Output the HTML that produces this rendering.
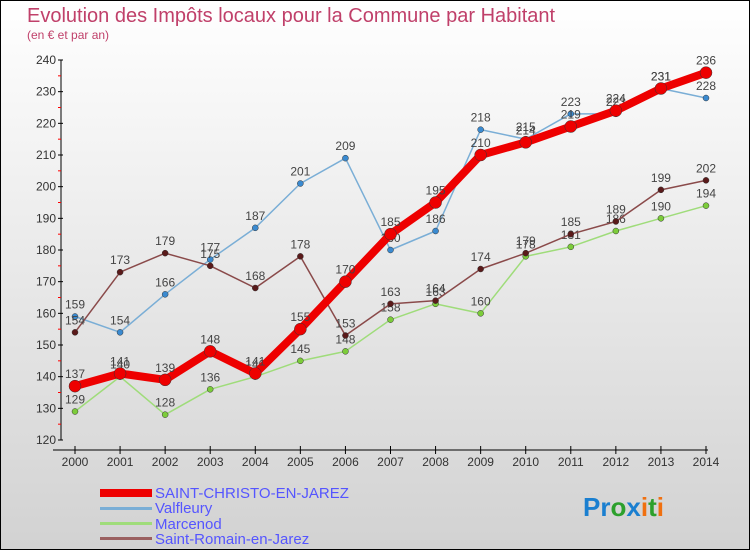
<!DOCTYPE html>
<html><head><meta charset="utf-8"><style>
body{margin:0}
svg{display:block;font-family:"Liberation Sans",sans-serif}
</style></head><body>
<svg id="c" width="750" height="550" viewBox="0 0 750 550">
<defs><linearGradient id="bg" x1="0" y1="0" x2="0" y2="1"><stop offset="0" stop-color="#ffffff"/><stop offset="1" stop-color="#d2d2d2"/></linearGradient></defs>
<rect x="0.5" y="0.5" width="749" height="549" fill="url(#bg)" stroke="#000"/>
<text x="27" y="22" font-size="20" fill="#c0406a">Evolution des Impôts locaux pour la Commune par Habitant</text>
<text x="27" y="39" font-size="12" fill="#c0406a">(en € et par an)</text>
<g id="axes"></g>
<g id="series"></g>
<g>
<rect x="100" y="489" width="52" height="8" fill="#e00"/>
<text x="155" y="498" font-size="15" fill="#5555ff">SAINT-CHRISTO-EN-JAREZ</text>
<rect x="100" y="507" width="52" height="3" fill="#7aaed6"/>
<text x="155" y="513" font-size="15" fill="#5555ff">Valfleury</text>
<rect x="100" y="522" width="52" height="3" fill="#9fdc7a"/>
<text x="155" y="529" font-size="15" fill="#5555ff">Marcenod</text>
<rect x="100" y="537" width="52" height="3" fill="#9a6060"/>
<text x="155" y="544" font-size="15" fill="#5555ff">Saint-Romain-en-Jarez</text>
</g>
<text x="583" y="516" font-size="26" font-weight="bold"><tspan fill="#1a7fd0">Pr</tspan><tspan fill="#2ca02c">o</tspan><tspan fill="#1a7fd0">x</tspan><tspan fill="#f07010">i</tspan><tspan fill="#2ca02c">t</tspan><tspan fill="#f07010">i</tspan></text>
</svg>
<script>
const years=[2000,2001,2002,2003,2004,2005,2006,2007,2008,2009,2010,2011,2012,2013,2014];
const stChristo=[137,141,139,148,141,155,170,185,195,210,214,219,224,231,236];
const valfleury=[159,154,166,177,187,201,209,180,186,218,215,223,223,231,228];
const marcenod=[129,140,128,136,140,145,148,158,163,160,178,181,186,190,194];
const stRomain=[154,173,179,175,168,178,153,163,164,174,179,185,189,199,202];
const yTicks=[120,130,140,150,160,170,180,190,200,210,220,230,240];
const NS="http://www.w3.org/2000/svg";
const x=i=>75+i*(706-75)/(years.length-1);
const y=v=>440-(v-120)*(380/120);
function mk(t,a,p){const e=document.createElementNS(NS,t);for(const k in a)e.setAttribute(k,a[k]);p.appendChild(e);return e;}
const ax=document.getElementById('axes');
const yl=mk('line',{x1:61,y1:60,x2:61,y2:440,stroke:'#000'},ax);


yTicks.forEach(v=>{
  const t=mk('line',{x1:58,x2:63,y1:y(v),y2:y(v),stroke:'#000'},ax);
  
  
  if(v<240){const m=mk('line',{x1:58,x2:61,y1:y(v+5),y2:y(v+5),stroke:'#f00'},ax);
  
  }
  const l=mk('text',{x:56,y:y(v)+4,'font-size':12,'text-anchor':'end',fill:'#333'},ax);l.textContent=v;
  
  
});
const xl=mk('line',{x1:53,y1:450,x2:708,y2:450,stroke:'#000'},ax);


years.forEach((yr,i)=>{
  const t=mk('line',{x1:x(i),x2:x(i),y1:446,y2:454,stroke:'#000'},ax);
  
  
  const l=mk('text',{x:x(i),y:466,'font-size':12,'text-anchor':'middle',fill:'#333'},ax);l.textContent=yr;
  
  
});
const sg=document.getElementById('series');
function draw(vals,name,color,w,dot,dotFill){
  const g=mk('g',{},sg);
  
  
  const p=mk('polyline',{points:vals.map((v,i)=>x(i)+','+y(v)).join(' '),fill:'none',stroke:color,'stroke-width':w,'stroke-linejoin':'round'},g);
  
  
  vals.forEach((v,i)=>{
    const c=mk('circle',{cx:x(i),cy:y(v),r:dot,fill:dotFill,stroke:'#333','stroke-width':0.5},g);
    
    
    const l=mk('text',{x:x(i),y:y(v)-8,'font-size':12,'text-anchor':'middle',fill:'#444'},g);l.textContent=v;
    
    
  });
}
draw(valfleury,'valfleury','#7aaed6',1.5,3,'#3a8ad0');
draw(marcenod,'marcenod','#9fdc7a',1.5,3,'#7ccc3a');
draw(stRomain,'saint-romain','#8a4a4a',1.5,3,'#5a1a1a');
draw(stChristo,'saint-christo','#ee0000',8,6,'#ee0000');
</script>
</body></html>
